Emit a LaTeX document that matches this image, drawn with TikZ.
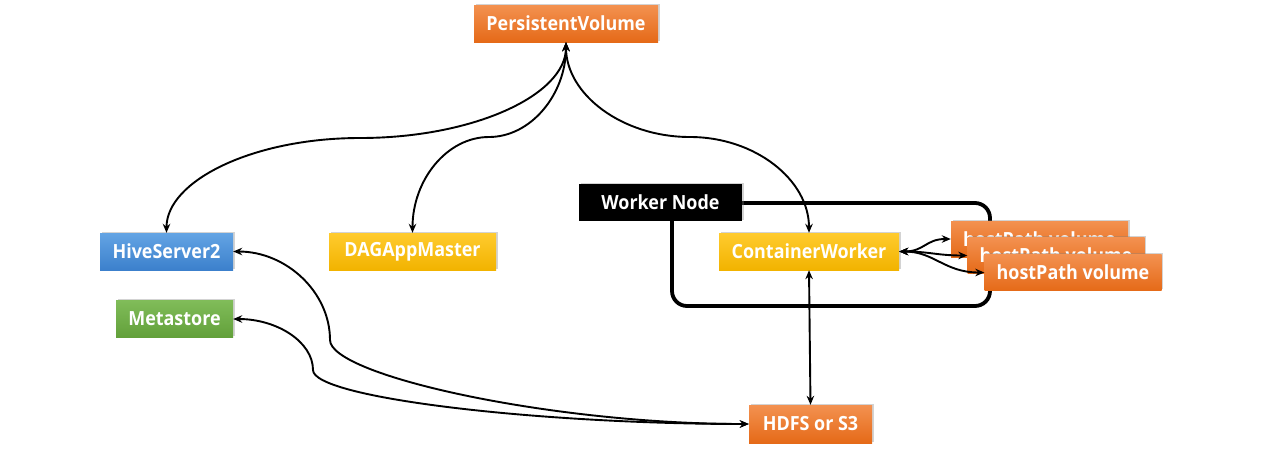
\documentclass[tikz,border=0pt]{standalone}
\usepackage{fontspec}
\setmainfont{Open Sans}[FakeStretch=0.92]
\usetikzlibrary{arrows.meta,shadows}
\definecolor{orT}{HTML}{F39150}\definecolor{orB}{HTML}{E56A18}
\definecolor{blT}{HTML}{63A4E4}\definecolor{blB}{HTML}{3C80CC}
\definecolor{yeT}{HTML}{FFCB2E}\definecolor{yeB}{HTML}{F2B300}
\definecolor{grT}{HTML}{80BC59}\definecolor{grB}{HTML}{62A03A}
\tikzset{
  box/.style={rectangle, inner sep=0pt, text=white, font=\fontsize{19.5}{22}\selectfont\bfseries,
    drop shadow={shadow xshift=1.5pt, shadow yshift=1.5pt, opacity=0.35}},
  orangebox/.style={box, top color=orT, bottom color=orB},
  bluebox/.style={box, top color=blT, bottom color=blB},
  yellowbox/.style={box, top color=yeT, bottom color=yeB},
  greenbox/.style={box, top color=grT, bottom color=grB},
  blackbox/.style={box, fill=black},
  conn/.style={line width=1.9pt, {Stealth[length=9pt,width=7.5pt]}-{Stealth[length=9pt,width=7.5pt]}},
  frame/.style={draw, line width=3.8pt, rounded corners=15pt, inner sep=0pt},
}
\begin{document}
\begin{tikzpicture}[x=1pt,y=-1pt]
\useasboundingbox (0,0) rectangle (1271,448);
% worker frame
\node[frame, minimum width=318pt, minimum height=103pt] (wf) at (831,254.5) {};
% nodes
\node[orangebox, minimum width=184pt, minimum height=37pt] (pv) at (566,23.5) {PersistentVolume};
\node[bluebox, minimum width=133pt, minimum height=37pt] (hive) at (166.5,251.5) {HiveServer2};
\node[greenbox, minimum width=117pt, minimum height=37pt] (meta) at (174.5,319) {Metastore};
\node[yellowbox, minimum width=167pt, minimum height=37pt] (dag) at (412.5,251.5) {DAGAppMaster};
\node[blackbox, minimum width=163pt, minimum height=37pt] (wn) at (660.5,202.5) {Worker Node};
\node[yellowbox, minimum width=180pt, minimum height=37pt] (cw) at (809,251.5) {ContainerWorker};
\node[orangebox, minimum width=177pt, minimum height=36pt] (h1) at (1039.5,239) {hostPath volume};
\node[orangebox, minimum width=177pt, minimum height=36pt] (h2) at (1056,255.5) {hostPath volume};
\node[orangebox, minimum width=177pt, minimum height=36pt] (h3) at (1073,272.5) {hostPath volume};
\node[orangebox, minimum width=123pt, minimum height=38pt] (hdfs) at (810.5,424) {HDFS or S3};
% connector bends
\coordinate (m1) at (360,138);
\coordinate (m2) at (489,137);
\coordinate (m3) at (690,137);
\coordinate (hb) at (330,340);
\coordinate (mb) at (313,370);
% connectors
\draw[conn] (pv.south) .. controls +(0,53) and +(113,0) .. (m1) .. controls +(-107,0) and +(0,-52) .. (hive.north);
\draw[conn] (pv.south) .. controls +(0,52) and +(42,0) .. (m2) .. controls +(-42,0) and +(0,-53) .. (dag.north);
\draw[conn] (pv.south) .. controls +(0,52) and +(-68,0) .. (m3) .. controls +(65,0) and +(0,-53) .. (cw.north);
\draw[conn] (cw.south) -- (hdfs.north);
\draw[conn] (cw.east) .. controls +(25,0) and +(-25,0) .. (h1.west);
\draw[conn] (cw.east) .. controls +(30,0) and +(-30,0) .. (h2.west);
\draw[conn] (cw.east) .. controls +(35,0) and +(-40,0) .. (h3.west);
\draw[conn] (hive.east) .. controls +(53,0) and +(0,-48) .. (hb) .. controls +(0,35) and +(-200,0) .. (hdfs.west);
\draw[conn] (meta.east) .. controls +(44,0) and +(0,-28) .. (mb) .. controls +(0,28) and +(-210,0) .. (hdfs.west);
\end{tikzpicture}
\end{document}
